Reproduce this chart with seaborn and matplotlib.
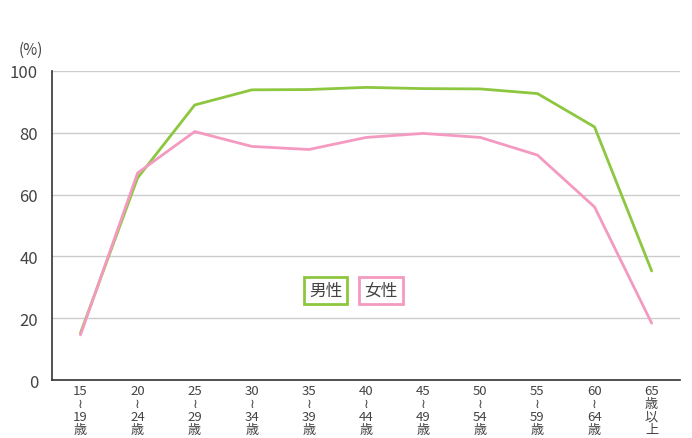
import numpy as np
import pandas as pd
import matplotlib
matplotlib.use("Agg")
import matplotlib.pyplot as plt
import seaborn as sns

ages = ["15\n≀\n19\n歳", "20\n≀\n24\n歳", "25\n≀\n29\n歳", "30\n≀\n34\n歳",
        "35\n≀\n39\n歳", "40\n≀\n44\n歳", "45\n≀\n49\n歳", "50\n≀\n54\n歳",
        "55\n≀\n59\n歳", "60\n≀\n64\n歳", "65\n歳\n以\n上"]
men = [15.2, 65.4, 89.0, 93.9, 94.0, 94.7, 94.3, 94.2, 92.7, 81.9, 35.3]
women = [14.6, 67.0, 80.4, 75.6, 74.6, 78.5, 79.8, 78.5, 72.8, 56.0, 18.4]
sexes = ["男性", "女性"]
colors = {"男性": "#8dc63f", "女性": "#f49ac1"}

df = pd.DataFrame({
    "x": list(range(len(ages))) * 2,
    "rate": men + women,
    "sex": ["男性"] * len(men) + ["女性"] * len(women),
})

sns.set_style("white")
plt.rcParams["font.family"] = ["Noto Sans CJK JP", "DejaVu Sans"]
txt = "#444444"

fig = plt.figure(figsize=(6.92, 4.39), dpi=100)
ax = fig.add_axes([0.075, 0.132, 0.908, 0.704])
sns.lineplot(data=df, x="x", y="rate", hue="sex", palette=colors, linewidth=2,
             legend=False, ax=ax)

ax.set_xlim(-0.5, 10.5)
ax.set_ylim(0, 100)
ax.set_yticks([0, 20, 40, 60, 80, 100])
ax.yaxis.grid(True, color="#cccccc", linewidth=1)
ax.set_axisbelow(True)
ax.tick_params(axis="y", direction="in", length=8, width=1.2, color="#333333",
               labelsize=12, labelcolor=txt, pad=10)
ax.set_xticks(range(len(ages)))
ax.set_xticklabels(ages, linespacing=1.0)
ax.tick_params(axis="x", length=0, labelsize=9.5, labelcolor=txt, pad=3)
ax.set_xticks(np.arange(-0.5, 11, 1), minor=True)
ax.tick_params(axis="x", which="minor", direction="in", length=7, width=1,
               color="#333333")
for s in ["top", "right"]:
    ax.spines[s].set_visible(False)
for s in ["left", "bottom"]:
    ax.spines[s].set_color("#333333")
    ax.spines[s].set_linewidth(1.2)
ax.set_xlabel("")
ax.set_ylabel("")

fig.text(0.045, 0.885, "(%)", fontsize=11, color=txt, ha="center", va="center")

# legend boxes
ax.text(4.29, 29.1, "男性", fontsize=12, color=txt, ha="center", va="center",
        bbox=dict(boxstyle="square,pad=0.3", fc="white", ec=colors["男性"], lw=2))
ax.text(5.26, 29.1, "女性", fontsize=12, color=txt, ha="center", va="center",
        bbox=dict(boxstyle="square,pad=0.3", fc="white", ec=colors["女性"], lw=2))

fig.savefig("out.png", dpi=100)
